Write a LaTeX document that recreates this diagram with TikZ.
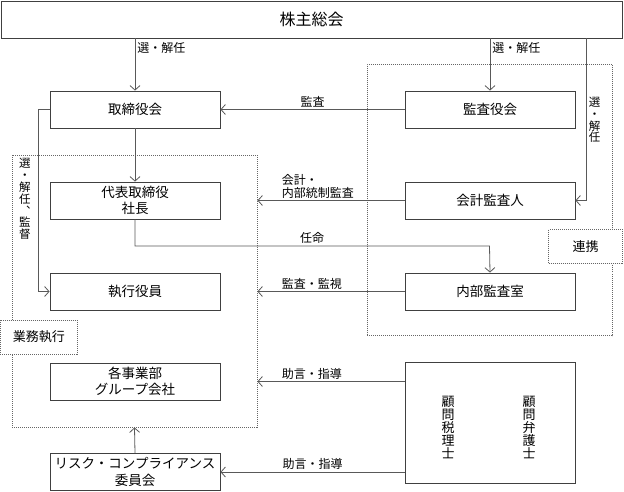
\documentclass[tikz,border=0pt]{standalone}
\usepackage{fontspec}
\setmainfont{Noto Sans CJK JP}
\usetikzlibrary{arrows.meta}

\begin{document}
\begin{tikzpicture}[x=1pt, y=-1pt,
		box/.style={draw=black!75, line width=0.8pt, fill=white, minimum width=170pt, minimum height=37pt, inner sep=0pt, align=center, font=\fontsize{13.5}{16.5}\selectfont},
		area/.style={draw=black!60, dash pattern=on 1pt off 1pt, line width=0.8pt, inner sep=0pt},
		tag/.style={area, fill=white, font=\fontsize{13}{15}\selectfont},
		lbl/.style={inner sep=2pt, align=left, font=\fontsize{12}{12.5}\selectfont},
		tate/.style={inner sep=0pt, align=center, font=\fontsize{11.5}{11.8}\selectfont},
		arr/.style={draw=black!65, line width=0.8pt, -{Straight Barb[length=4.5pt, width=10pt]}}]
	
	\useasboundingbox (0,0) rectangle (624,492);
	
	% Areas
	\node[area, minimum width=245pt, minimum height=272pt] (gyomu) at (134.5,291) {};
	\node[area, minimum width=245pt, minimum height=271pt] (kansa) at (489.5,200) {};
	\node[tag, minimum width=77pt, minimum height=34pt] (gyomuTag) at (38.8,337) {業務執行};
	\node[tag, minimum width=74pt, minimum height=34pt] (renkei) at (585.5,246.5) {連携};
	
	% Nodes
	\node[box, minimum width=621pt, font=\fontsize{16}{17}\selectfont] (soukai) at (311.5,19.5) {株主総会};
	\node[box] (torishimari) at (135,109.5) {取締役会};
	\node[box] (kansayaku) at (490,109.5) {監査役会};
	\node[box] (daihyo) at (135,200.5) {代表取締役\\社長};
	\node[box] (kaikei) at (490,200.5) {会計監査人};
	\node[box] (shikko) at (135,291.5) {執行役員};
	\node[box] (naibu) at (490,291.5) {内部監査室};
	\node[box] (jigyo) at (135,381.5) {各事業部\\グループ会社};
	\node[box, minimum height=121pt] (komon) at (490,422.5) {};
	\node[box] (risk) at (135,472) {リスク・コンプライアンス\\委員会};
	\node[tate, font=\fontsize{13}{13}\selectfont] (zeirishi) at (448,428) {顧\\問\\税\\理\\士};
	\node[tate, font=\fontsize{13}{13}\selectfont] (bengoshi) at (529,428) {顧\\問\\弁\\護\\士};
	
	% Edges with labels
	\draw[arr] (soukai.south -| torishimari) -- (torishimari.north) node[pos=0.18, right, lbl] {選・解任};
	\draw[arr] (soukai.south -| kansayaku) -- (kansayaku.north) node[pos=0.18, right, lbl] {選・解任};
	\coordinate (sennin) at (586,200.5);
	\draw[arr] (soukai.south -| sennin) -- (sennin) -- (kaikei.east);
	\node[tate] (senninLbl) at (594.5,120) {選\\・\\解\\任};
	\draw[arr] (kansayaku.west) -- (torishimari.east) node[midway, above, lbl] {監査};
	\draw[arr] (torishimari.south) -- (daihyo.north);
	\coordinate (kantoku) at (38,291.5);
	\draw[arr] (torishimari.west) -| (kantoku) -- (shikko.west);
	\node[tate] (kantokuLbl) at (25,199) {選\\・\\解\\任\\︑\\監\\督};
	\draw[arr] (kaikei.west) -- (kaikei.west -| gyomu.east) node[pos=0.85, anchor=south west, lbl] {会計・\\内部統制監査};
	\coordinate (ninmei) at (489.5,246);
	\draw[arr] (daihyo.south) |- (ninmei) -- (naibu.north);
	\node[lbl, above] (ninmeiLbl) at (312,246) {任命};
	\draw[arr] (naibu.west) -- (naibu.west -| gyomu.east) node[pos=0.63, above, lbl] {監査・監視};
	\draw[arr] (komon.west |- jigyo) -- (gyomu.east |- jigyo) node[pos=0.63, above, lbl] {助言・指導};
	\draw[arr] (komon.west |- risk) -- (risk.east) node[midway, above, lbl] {助言・指導};
	\draw[arr] (risk.north) -- (gyomu.south);
	
\end{tikzpicture}
\end{document}
